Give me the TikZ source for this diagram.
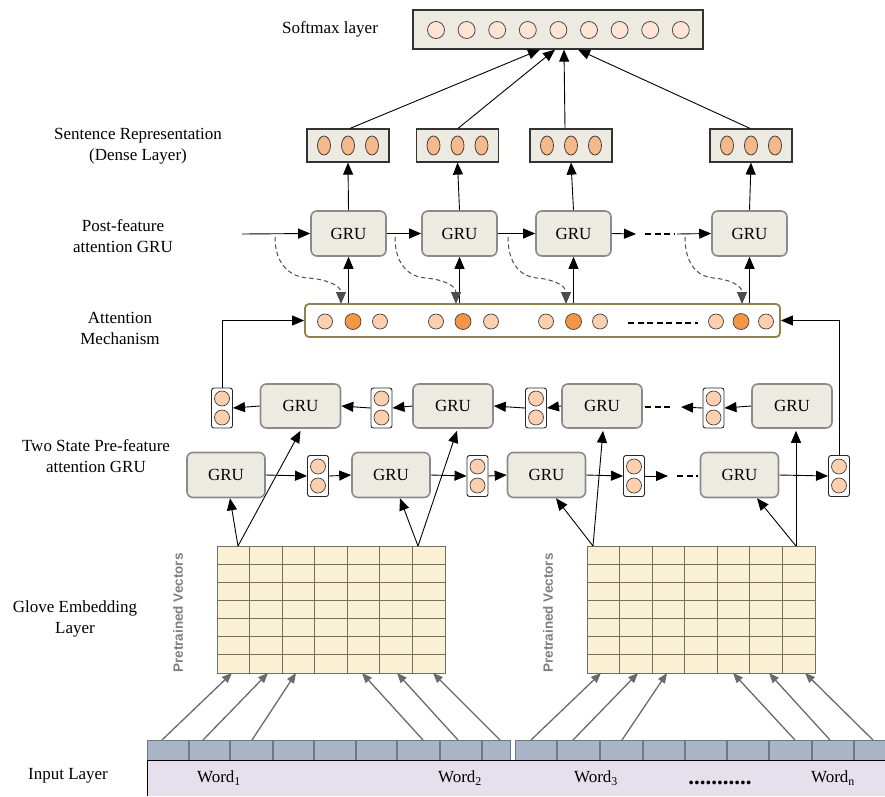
\documentclass[tikz,border=0pt]{standalone}
\usepackage{fontspec}
\setmainfont{Liberation Serif}
\setsansfont{Liberation Sans}
\usetikzlibrary{arrows.meta,calc}

\definecolor{boxfill}{HTML}{EDEBE1}
\definecolor{grubord}{HTML}{8A8A8A}
\definecolor{smdot}{HTML}{FDE4D4}
\definecolor{densedot}{HTML}{F6B98C}
\definecolor{litedot}{HTML}{FCD0AF}
\definecolor{hotdot}{HTML}{F39645}
\definecolor{attbord}{HTML}{8E8352}
\definecolor{gridfill}{HTML}{FAF0D3}
\definecolor{gridline}{HTML}{707062}
\definecolor{tokfill}{HTML}{A9B4C7}
\definecolor{tokline}{HTML}{6C7788}
\definecolor{inpfill}{HTML}{E5E0EC}
\definecolor{embarrow}{HTML}{6A6A6A}
\definecolor{vecgray}{HTML}{7E7E7E}

\begin{document}
\begin{tikzpicture}[x=1pt,y=-1pt,
  font=\fontsize{17}{21}\selectfont,
  arr/.style={-{Triangle[length=12pt,width=10pt]}},
  wire/.style={arr, line width=0.9pt, draw=black},
  lbl/.style={align=center, inner sep=0pt},
  grubox/.style={draw=grubord, fill=boxfill, line width=1.6pt, rounded corners=6pt, inner sep=0pt},
  densebox/.style={draw=black!80, fill=boxfill, line width=1.2pt, minimum width=82pt, minimum height=33pt, inner sep=0pt},
  cellbox/.style={draw=black!85, fill=white, line width=0.9pt, rounded corners=2.5pt, minimum width=21pt, minimum height=40pt, inner sep=0pt},
  lite/.style={draw=black!75, fill=litedot, line width=0.7pt},
  hot/.style={draw=black!75, fill=hotdot, line width=0.7pt},
  thickdash/.style={line width=1.8pt, dash pattern=on 6pt off 3.5pt},
  softarc/.style={draw=black!70, line width=1pt, dash pattern=on 4.5pt off 3pt, -{Triangle[length=12pt,width=10pt]}},
  emb/.style={draw=embarrow, line width=1.3pt, -{Triangle[length=10pt,width=8pt]}},
  vecs/.style={rotate=90, text=vecgray, font=\sffamily\bfseries\fontsize{13.5}{13.5}\selectfont, inner sep=0pt},
]
\useasboundingbox (0,0) rectangle (885,796);

% ---------- layer labels ----------
\node[lbl] (lsm)  at (330,29)  {Softmax layer};
\node[lbl] (lden) at (138,146) {Sentence Representation\\(Dense Layer)};
\node[lbl] (lpost) at (123,236) {Post-feature\\attention GRU};
\node[lbl] (latt) at (120,328) {Attention\\Mechanism};
\node[lbl] (lpre) at (96,456)  {Two State Pre-feature\\attention GRU};
\node[lbl] (lglo) at (75,619)  {Glove Embedding\\Layer};
\node[lbl] (linp) at (68,776)  {Input Layer};

% ---------- softmax layer ----------
\node[draw=black!80, fill=boxfill, line width=1.2pt, minimum width=290pt, minimum height=39pt, inner sep=0pt] (sm) at (558,29.5) {};
\foreach \i in {0,...,8}
  \draw[draw=black!70, fill=smdot, line width=0.8pt] ({436+30.6*\i},30) circle[radius=8.5pt];

% ---------- dense layer ----------
\foreach \n/\x in {d1/348, d2/457.5, d3/571, d4/751} {
  \node[densebox] (\n) at (\x,145.5) {};
  \foreach \o in {-24,0,24}
    \draw[draw=black!75, fill=densedot, line width=0.8pt] ({\x+\o},145.5) ellipse[x radius=6.5pt, y radius=9.5pt];
}

% ---------- post-feature attention GRU ----------
\foreach \n/\x in {p1/348.5, p2/459.5, p3/573.5, p4/749.5}
  \node[grubox, minimum width=75pt, minimum height=45pt] (\n) at (\x,233.5) {GRU};

% ---------- attention mechanism ----------
\node[draw=attbord, fill=white, line width=1.8pt, rounded corners=4pt, minimum width=475pt, minimum height=33pt, inner sep=0pt] (att) at (542.5,320.5) {};
\foreach \a/\b/\c in {325/353/380, 436/463/491, 546/573.5/600, 716/741/766} {
  \draw[lite] (\a,321.5) circle[radius=7.5pt];
  \draw[hot]  (\b,321.5) circle[radius=8pt];
  \draw[lite] (\c,321.5) circle[radius=7.5pt];
}
\coordinate (ad1) at (628,323);
\coordinate (ad2) at (698,323);
\draw[thickdash] (ad1) -- (ad2);

% ---------- two-state pre-feature GRU : backward row ----------
\foreach \n/\x in {bu1/300.5, bu2/453, bu3/602, bu4/792}
  \node[grubox, minimum width=80pt, minimum height=44pt] (\n) at (\x,406) {GRU};
\foreach \n/\x in {bc1/222, bc2/381.5, bc3/536, bc4/713.5} {
  \node[cellbox] (\n) at (\x,408) {};
  \draw[lite] (\x,398.5) circle[radius=7.5pt];
  \draw[lite] (\x,417.5) circle[radius=7.5pt];
}

% ---------- two-state pre-feature GRU : forward row ----------
\foreach \n/\x in {fl1/226, fl2/391, fl3/546.5, fl4/739.5}
  \node[grubox, minimum width=78pt, minimum height=45pt] (\n) at (\x,475) {GRU};
\foreach \n/\x in {fc1/318, fc2/477.5, fc3/634, fc4/839} {
  \node[cellbox, minimum height=41pt] (\n) at (\x,476) {};
  \draw[lite] (\x,466.5) circle[radius=7.5pt];
  \draw[lite] (\x,485.5) circle[radius=7.5pt];
}

% ---------- embedding grids ----------
\foreach \gx/\gn in {217/g1, 587/g2} {
  \node[draw=gridline, fill=gridfill, line width=1pt, minimum width=228pt, minimum height=127pt, inner sep=0pt, anchor=north west] (\gn) at (\gx,546) {};
  \foreach \i in {1,...,6}
    \draw[gridline, line width=1pt] ({\gx+\i*228/7},546) -- ++(0,127);
  \foreach \j in {1,...,6}
    \draw[gridline, line width=1pt] (\gx,{546+\j*127/7}) -- ++(228,0);
}
\node[vecs] (pv1) at (178,613) {Pretrained Vectors};
\node[vecs] (pv2) at (548,613) {Pretrained Vectors};

% ---------- input layer ----------
\fill[inpfill] (147,760) rectangle (885,796);
\node[draw=tokline, fill=tokfill, line width=1pt, minimum width=363pt, minimum height=20pt, inner sep=0pt, anchor=north west] (s1) at (147,740) {};
\node[draw=tokline, fill=tokfill, line width=1pt, minimum width=370pt, minimum height=20pt, inner sep=0pt, anchor=north west] (s2) at (515,740) {};
\foreach \x in {189,230,273,314,356,397,440,482, 557,600,643,685,727,769,812,854}
  \draw[tokline, line width=1.2pt] (\x,740) -- (\x,760);
\draw[black, line width=1pt] (147,796) -- (147,760) -- (885,760);
\node (w1) at (219,778) {Word\textsubscript{1}};
\node (w2) at (460,778) {Word\textsubscript{2}};
\node (w3) at (596,778) {Word\textsubscript{3}};
\node[anchor=base, font=\bfseries\fontsize{23}{23}\selectfont, inner sep=0pt] (wd) at (720,784) {...........};
\node (wn) at (833,778) {Word\textsubscript{n}};

% ---------- input strip -> embedding grids ----------
\foreach \sx/\tx in {162/232, 203/268, 252/296, 423/362, 458/397, 500/433,
                     531/601, 573/638, 622/667, 795/733, 830/769, 873/805} {
  \coordinate (es) at (\sx,740);
  \coordinate (et) at (\tx,673);
  \draw[emb] (es) -- (et);
}

% ---------- embedding grids -> pre-feature GRUs ----------
\coordinate (v1) at (238,546);
\coordinate (v2) at (418,546);
\coordinate (v3) at (593,546);
\coordinate (v4) at (796,546);
\draw[wire] (v1) -- ($(fl1.south)+(4,0)$);
\draw[wire] (v1) -- ($(bu1.south)+(0,2)$);
\draw[wire] (v2) -- ($(fl2.south)+(9,0)$);
\draw[wire] (v2) -- ($(bu2.south)+(4,2)$);
\draw[wire] (v3) -- ($(fl3.south)+(9.5,0)$);
\draw[wire] (v3) -- ($(bu3.south)+(1,2)$);
\draw[wire] (v4) -- ($(fl4.south)+(17.5,0)$);
\draw[wire] (v4) -- ($(bu4.south)+(4,2)$);

% ---------- forward row arrows ----------
\draw[wire] (fl1.east) -- (fc1.west);
\draw[wire] (fc1.east) -- (fl2.west);
\draw[wire] (fl2.east) -- (fc2.west);
\draw[wire] (fc2.east) -- (fl3.west);
\draw[wire] (fl3.east) -- (fc3.west);
\coordinate (fd0) at (668,476);
\draw[wire] (fc3.east) -- (fd0);
\coordinate (fd1) at (677,476);
\coordinate (fd2) at (698,476);
\draw[thickdash] (fd1) -- (fd2);
\draw[wire] (fl4.east) -- (fc4.west);

% ---------- backward row arrows ----------
\draw[wire] (bu1.west) -- (bc1.east);
\draw[wire] (bc2.west) -- (bu1.east);
\draw[wire] (bu2.west) -- (bc2.east);
\draw[wire] (bc3.west) -- (bu2.east);
\draw[wire] (bu3.west) -- (bc3.east);
\coordinate (bd0) at (681,407);
\draw[wire] (bc4.west) -- (bd0);
\coordinate (bd1) at (645,407);
\coordinate (bd2) at (673,407);
\draw[thickdash] (bd1) -- (bd2);
\draw[wire] (bu4.west) -- (bc4.east);

% ---------- both directions -> attention ----------
\draw[wire] (bc1.north) |- (att.west);
\draw[wire] (fc4.north) |- (att.east);

% ---------- attention -> post-feature GRUs ----------
\foreach \n in {p1,p2,p3,p4}
  \draw[wire] (att.north -| \n.south) -- (\n.south);

% ---------- post-feature GRU chain ----------
\coordinate (pin) at (242,234);
\draw[wire] (pin) -- (p1.west);
\draw[wire] (p1.east) -- (p2.west);
\draw[wire] (p2.east) -- (p3.west);
\coordinate (pd0) at (636,234);
\draw[wire] (p3.east) -- (pd0);
\coordinate (pd1) at (645,234);
\coordinate (pd2) at (675,234);
\draw[thickdash] (pd1) -- (pd2);
\coordinate (pd3) at (677,234);
\draw[wire] (pd3) -- (p4.west);

% ---------- attention feedback (dashed) ----------
\foreach \sx/\ex in {275/341, 395/456, 508/566, 685/742} {
  \pgfmathsetmacro{\mx}{(\sx+\ex)/2}
  \pgfmathsetmacro{\ca}{\sx+0.25*(\ex-\sx)}
  \pgfmathsetmacro{\cb}{\sx+0.75*(\ex-\sx)}
  \coordinate (cs) at (\sx,237);
  \coordinate (ce) at (\ex,304);
  \draw[softarc] (cs) .. controls (\sx,266) and (\ca,277) .. (\mx,278)
                      .. controls (\cb,279) and (\ex,285) .. (ce);
}

% ---------- post-feature GRU -> dense ----------
\foreach \p/\d in {p1/d1, p2/d2, p3/d3, p4/d4}
  \draw[wire] (\p.north) -- (\d.south);

% ---------- dense -> softmax ----------
\draw[wire] ($(d1.north)+(2,0)$) -- ($(sm.south)+(-18,0)$);
\draw[wire] ($(d2.north)+(0.5,0)$) -- ($(sm.south)+(-3,0)$);
\draw[wire] ($(d3.north)+(-6,0)$) -- ($(sm.south)+(6,0)$);
\draw[wire] ($(d4.north)+(-1,0)$) -- ($(sm.south)+(20,0)$);

\end{tikzpicture}
\end{document}
